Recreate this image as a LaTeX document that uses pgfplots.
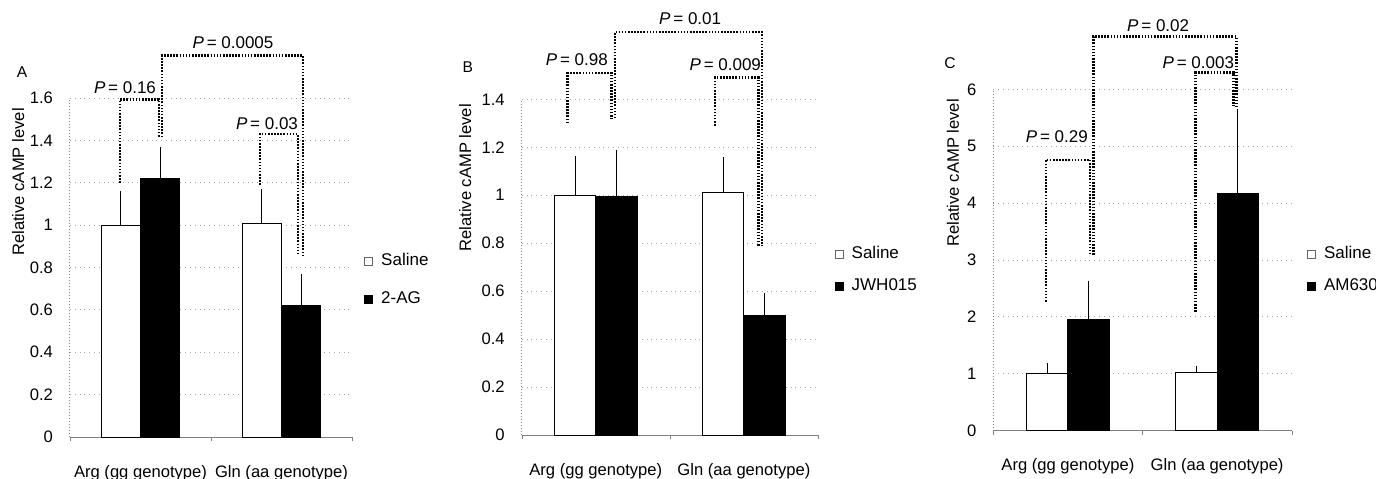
\documentclass[border=0pt]{standalone}
\usepackage{fontspec}
\setmainfont{Liberation Sans}
\usepackage{pgfplots}
\pgfplotsset{compat=1.18}

\tikzset{
 pdot/.style={line width=1.3pt, dash pattern=on 0.8pt off 0.75pt, black},
 plab/.style={font=\fontsize{8.5}{9}\selectfont, inner sep=0pt},
}
\pgfplotsset{
 panel/.style={
  scale only axis, clip=false,
  xmin=-0.5, xmax=1.5, ymin=0,
  axis x line*=bottom, axis y line*=left,
  axis line style={gray, line width=0.5pt, -},
  y axis line style={densely dotted},
  ymajorgrids, grid style={gray!70, dotted, line width=0.5pt},
  xtick={-0.5,0.5,1.5}, xticklabels={}, tick align=outside, major tick length=2pt,
  xtick style={gray},
  extra x ticks={0,1}, extra x tick labels={Arg (gg genotype), Gln (aa genotype)},
  extra x tick style={major tick length=0pt, xticklabel style={yshift=-10.5pt}},
  ytick style={draw=none},
  yticklabel style={xshift=-3pt},
  tick label style={font=\fontsize{8.3}{9}\selectfont},
  /pgf/number format/assume math mode=true,
  ylabel={Relative cAMP level},
  label style={font=\fontsize{8.3}{9}\selectfont},
  ybar, bar width=0.28,
  legend cell align=left,
  legend style={draw=none, fill=none, anchor=west, font=\fontsize{8.5}{9}\selectfont, inner sep=0pt},
 },
 sal/.style={draw=black, fill=white, line width=0.5pt, bar shift=-0.14,
   legend image code/.code={\draw[black!60, fill=white, line width=0.4pt] (0pt,-2pt) rectangle (4pt,2pt); \path (6pt,0pt);},
   error bars/.cd, y dir=plus, y explicit, error bar style={black, line width=0.5pt},
   error mark options={black, mark size=1pt, line width=0.5pt}},
 drug/.style={draw=black, fill=black, line width=0.5pt, bar shift=0.14,
   legend image code/.code={\fill[black] (0pt,-2pt) rectangle (4pt,2pt); \path (6pt,0pt);},
   error bars/.cd, y dir=plus, y explicit, error bar style={black, line width=0.5pt},
   error mark options={black, mark size=1pt, line width=0.5pt}},
}

\begin{document}
\begin{tikzpicture}
\path[use as bounding box] (0,0) rectangle (688pt,239pt);

% ---------------- Panel A
\begin{axis}[panel, at={(35pt,20.5pt)}, anchor=south west,
  width=141pt, height=169.5pt, ymax=1.6,
  ytick={0,0.2,0.4,0.6,0.8,1,1.2,1.4,1.6},
  ylabel style={at={(axis description cs:-0.184,0.752)}, anchor=center},
  legend style={at={(axis description cs:1.042,0.463)}, row sep=7.5pt}]
\addplot[sal] coordinates {(0,1.00) +- (0,0.15) (1,1.01) +- (0,0.15)};
\addplot[drug] coordinates {(0,1.22) +- (0,0.14) (1,0.62) +- (0,0.14)};
\legend{Saline, 2-AG}
\draw[pdot] (axis cs:-0.145,1.20) |- (axis cs:0.131,1.594) -- (axis cs:0.131,1.415);
\draw[pdot] (axis cs:0.152,1.415) |- (axis cs:1.152,1.80) -- (axis cs:1.152,0.86);
\draw[pdot] (axis cs:0.847,1.19) |- (axis cs:1.117,1.43) -- (axis cs:1.117,0.86);
\node[plab] at (axis cs:-0.11,1.65) {\textit{P}\,= 0.16};
\node[plab] at (axis cs:0.656,1.86) {\textit{P}\,= 0.0005};
\node[plab] at (axis cs:0.897,1.48) {\textit{P}\,= 0.03};
\node[plab, font=\fontsize{7.8}{9}\selectfont] at (axis cs:-0.84,1.72) {A};
\end{axis}

% ---------------- Panel B
\begin{axis}[panel, at={(260.85pt,21.5pt)}, anchor=south west,
  width=148.15pt, height=167.85pt, ymax=1.4,
  ytick={0,0.2,0.4,0.6,0.8,1,1.2,1.4},
  ylabel style={at={(axis description cs:-0.191,0.766)}, anchor=center},
  legend style={at={(axis description cs:1.055,0.491)}, row sep=4.5pt}]
\addplot[sal] coordinates {(0,1.00) +- (0,0.155) (1,1.01) +- (0,0.14)};
\addplot[drug] coordinates {(0,0.995) +- (0,0.185) (1,0.50) +- (0,0.085)};
\legend{Saline, JWH015}
\draw[pdot] (axis cs:-0.189,1.30) |- (axis cs:0.108,1.51) -- (axis cs:0.108,1.32);
\draw[pdot] (axis cs:0.130,1.32) |- (axis cs:1.122,1.68) -- (axis cs:1.122,0.79);
\draw[pdot] (axis cs:0.806,1.29) |- (axis cs:1.097,1.49) -- (axis cs:1.097,0.79);
\node[plab] at (axis cs:-0.128,1.564) {\textit{P}\,= 0.98};
\node[plab] at (axis cs:0.637,1.735) {\textit{P}\,= 0.01};
\node[plab] at (axis cs:0.874,1.543) {\textit{P}\,= 0.009};
\node[plab, font=\fontsize{7.8}{9}\selectfont] at (axis cs:-0.863,1.535) {B};
\end{axis}

% ---------------- Panel C
\begin{axis}[panel, at={(496.65pt,23.65pt)}, anchor=south west,
  width=149.2pt, height=170.7pt, ymax=6,
  ytick={0,1,2,3,4,5,6},
  ylabel style={at={(axis description cs:-0.135,0.755)}, anchor=center},
  legend style={at={(axis description cs:1.05,0.471)}, row sep=4.5pt}]
\addplot[sal] coordinates {(0,1.00) +- (0,0.155) (1,1.02) +- (0,0.09)};
\addplot[drug] coordinates {(0,1.96) +- (0,0.63) (1,4.16) +- (0,1.45)};
\legend{Saline, AM630}
\draw[pdot] (axis cs:-0.148,2.27) |- (axis cs:0.149,4.76) -- (axis cs:0.149,3.09);
\draw[pdot] (axis cs:0.171,3.09) |- (axis cs:1.129,6.93) -- (axis cs:1.129,5.70);
\draw[pdot] (axis cs:0.854,2.09) |- (axis cs:1.111,6.29) -- (axis cs:1.111,5.70);
\node[plab] at (axis cs:-0.074,5.17) {\textit{P}\,= 0.29};
\node[plab] at (axis cs:0.605,7.11) {\textit{P}\,= 0.02};
\node[plab] at (axis cs:0.874,6.46) {\textit{P}\,= 0.003};
\node[plab, font=\fontsize{7.8}{9}\selectfont] at (axis cs:-0.79,6.46) {C};
\end{axis}
\end{tikzpicture}
\end{document}
